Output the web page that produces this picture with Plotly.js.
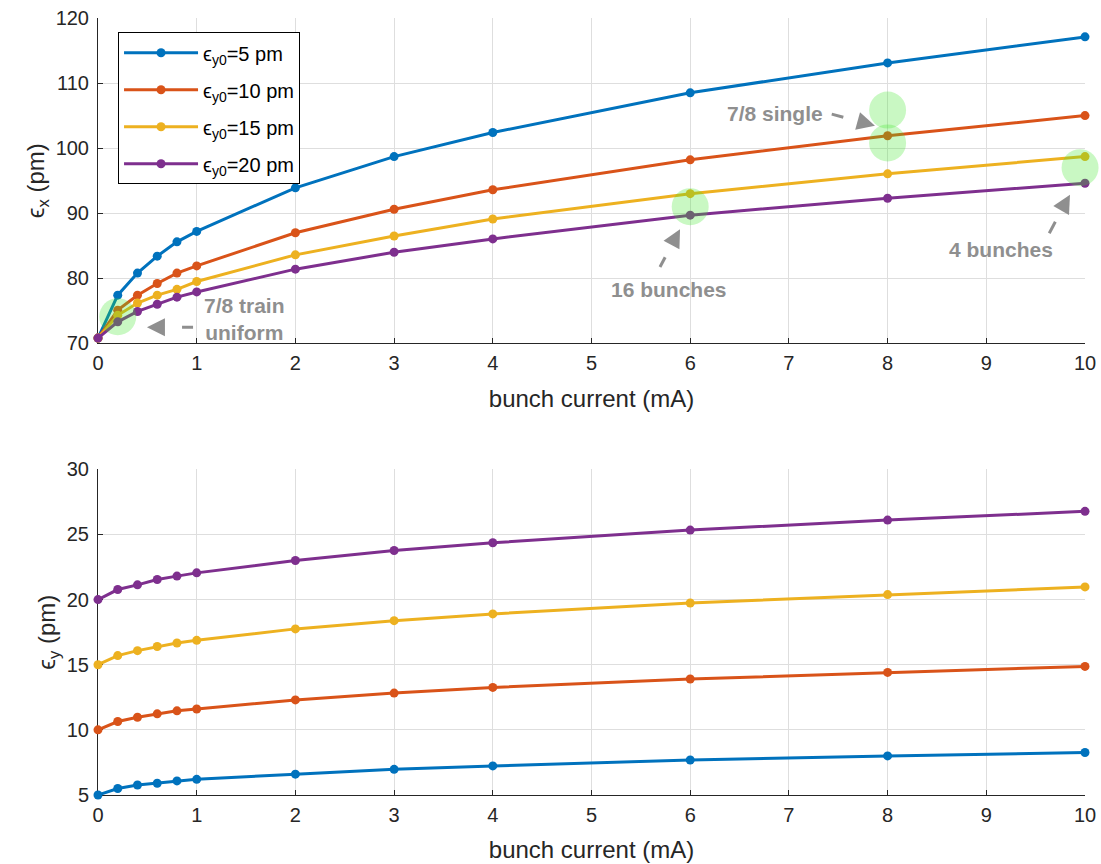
<!DOCTYPE html>
<html>
<head>
<meta charset="utf-8">
<script src="https://cdn.plot.ly/plotly-3.0.1.min.js"></script>
<style>
  html, body { margin: 0; padding: 0; background: #ffffff; }
  #chart { width: 1101px; height: 864px; }
</style>
</head>
<body>
<div id="chart"></div>
<script>
// ---------------- data ----------------
const current = [0, 0.2, 0.4, 0.6, 0.8, 1, 2, 3, 4, 6, 8, 10];

const seriesNames = ['ϵ<sub>y0</sub>=5 pm', 'ϵ<sub>y0</sub>=10 pm', 'ϵ<sub>y0</sub>=15 pm', 'ϵ<sub>y0</sub>=20 pm'];

// horizontal emittance (pm)
const ex5  = [70.8, 77.4, 80.8, 83.4, 85.6, 87.2, 93.9, 98.7, 102.4, 108.5, 113.1, 117.1];
const ex10 = [70.8, 75.1, 77.4, 79.2, 80.8, 81.9, 87.0, 90.6, 93.6, 98.2, 101.9, 105.0];
const ex15 = [70.8, 74.3, 76.2, 77.4, 78.3, 79.5, 83.6, 86.5, 89.1, 93.0, 96.05, 98.7];
const ex20 = [70.8, 73.3, 74.9, 76.0, 77.1, 77.9, 81.4, 84.0, 86.05, 89.7, 92.3, 94.6];

// vertical emittance (pm)
const ey5  = [5.0, 5.5, 5.77, 5.9, 6.08, 6.2, 6.6, 6.97, 7.23, 7.69, 8.0, 8.26];
const ey10 = [10.0, 10.64, 10.97, 11.23, 11.46, 11.6, 12.3, 12.82, 13.26, 13.9, 14.41, 14.87];
const ey15 = [15.0, 15.7, 16.08, 16.4, 16.67, 16.87, 17.75, 18.38, 18.9, 19.74, 20.38, 20.97];
const ey20 = [20.0, 20.77, 21.13, 21.54, 21.8, 22.05, 23.0, 23.77, 24.36, 25.33, 26.1, 26.77];

// highlighted operating points (top panel)
const highlightX = [0.2, 8, 8, 6, 9.95];
const highlightY = [74.1, 105.85, 100.8, 91.0, 97.0];

// axis ticks
const xTicks = [0, 1, 2, 3, 4, 5, 6, 7, 8, 9, 10];
const exTicks = [70, 80, 90, 100, 110, 120];
const eyTicks = [5, 10, 15, 20, 25, 30];

// ---------------- styling ----------------
const colors = ['#0072BD', '#D95319', '#EDB120', '#7E2F8E'];
const FONT = 'Liberation Sans, Arial, Helvetica, sans-serif';
const TXT = '#262626';
const GRID = '#dedede';
const ANN = '#8f8f8f';

const exSeries = [ex5, ex10, ex15, ex20];
const eySeries = [ey5, ey10, ey15, ey20];

const traces = [];
exSeries.forEach((ys, i) => {
  traces.push({
    x: current, y: ys, xaxis: 'x', yaxis: 'y',
    type: 'scatter', mode: 'lines+markers',
    name: seriesNames[i],
    legendgroup: 'g' + i,
    line: { color: colors[i], width: 3 },
    marker: { color: colors[i], size: 9 },
    cliponaxis: false,
    showlegend: true
  });
});
eySeries.forEach((ys, i) => {
  traces.push({
    x: current, y: ys, xaxis: 'x2', yaxis: 'y2',
    type: 'scatter', mode: 'lines+markers',
    name: seriesNames[i],
    legendgroup: 'g' + i,
    line: { color: colors[i], width: 3 },
    marker: { color: colors[i], size: 9 },
    cliponaxis: false,
    showlegend: false
  });
});
traces.push({
  x: highlightX, y: highlightY, xaxis: 'x', yaxis: 'y',
  type: 'scatter', mode: 'markers',
  marker: { color: 'rgba(60,230,40,0.28)', size: 37, line: { width: 0 } },
  cliponaxis: false,
  showlegend: false,
  hoverinfo: 'skip'
});

function xAxis(anchor) {
  return {
    anchor: anchor,
    range: [0, 10],
    tickvals: xTicks,
    ticks: 'inside', ticklen: 5, tickwidth: 1, tickcolor: TXT,
    showline: true, linecolor: TXT, linewidth: 1,
    showgrid: true, gridcolor: GRID, gridwidth: 1,
    zeroline: false,
    layer: 'below traces',
    tickfont: { family: FONT, size: 20, color: TXT },
    ticklabelstandoff: 2,
    title: { text: 'bunch current (mA)', font: { family: FONT, size: 24, color: TXT }, standoff: 16 },
    automargin: false
  };
}
function yAxis(anchor, range, ticks, title, domain) {
  return {
    anchor: anchor, domain: domain,
    range: range, tickvals: ticks,
    ticks: 'inside', ticklen: 5, tickwidth: 1, tickcolor: TXT,
    showline: true, linecolor: TXT, linewidth: 1,
    showgrid: true, gridcolor: GRID, gridwidth: 1,
    zeroline: false,
    layer: 'below traces',
    tickfont: { family: FONT, size: 20, color: TXT },
    ticklabelstandoff: 4,
    title: { text: title, font: { family: FONT, size: 24, color: TXT }, standoff: 4 },
    automargin: false
  };
}

const annFont = { family: FONT, size: 21, color: ANN };
const arrowCommon = {
  text: '', showarrow: true, arrowhead: 2, arrowsize: 1.2, arrowwidth: 3,
  arrowcolor: ANN, xref: 'x', yref: 'y', axref: 'pixel', ayref: 'pixel'
};

const layout = {
  width: 1101, height: 864,
  margin: { l: 98, r: 16, t: 18, b: 69 },
  paper_bgcolor: '#ffffff', plot_bgcolor: '#ffffff',
  font: { family: FONT, color: TXT },
  xaxis: xAxis('y'),
  yaxis: yAxis('x', [70, 120], exTicks, 'ϵ<sub>x</sub> (pm)', [0.5813, 1]),
  xaxis2: xAxis('y2'),
  yaxis2: yAxis('x2', [5, 30], eyTicks, 'ϵ<sub>y</sub> (pm)', [0, 0.4192]),
  showlegend: true,
  legend: {
    x: 0.0203, y: 0.9816, xanchor: 'left', yanchor: 'top',
    bgcolor: '#ffffff', bordercolor: '#000000', borderwidth: 1,
    font: { family: FONT, size: 20, color: '#000000' },
    itemwidth: 74,
    tracegroupgap: 8,
    traceorder: 'grouped'
  },
  shapes: [
    // dashed shafts of the annotation arrows
    { type: 'line', xref: 'x', yref: 'y', x0: 0.963, y0: 72.46, x1: 0.648, y1: 72.46,
      line: { color: ANN, width: 3, dash: '11px,20px' } },
    { type: 'line', xref: 'x', yref: 'y', x0: 7.434, y0: 105.23, x1: 7.726, y1: 104.05,
      line: { color: ANN, width: 3, dash: '12px,20px' } },
    { type: 'line', xref: 'x', yref: 'y', x0: 5.694, y0: 81.74, x1: 5.826, y1: 85.51,
      line: { color: ANN, width: 3, dash: '11px,20px' } },
    { type: 'line', xref: 'x', yref: 'y', x0: 9.638, y0: 86.92, x1: 9.772, y1: 90.77,
      line: { color: ANN, width: 3, dash: '13px,20px' } }
  ],
  annotations: [
    Object.assign({}, arrowCommon, { x: 0.496, y: 72.46, ax: 15, ay: 0 }),
    Object.assign({}, arrowCommon, { x: 7.872, y: 103.43, ax: -14.5, ay: -4 }),
    Object.assign({}, arrowCommon, { x: 5.897, y: 87.54, ax: -7, ay: 13 }),
    Object.assign({}, arrowCommon, { x: 9.848, y: 92.82, ax: -7.5, ay: 13.3 }),
    { text: '<b>7/8 train<br>uniform</b>', x: 1.489, y: 73.74, xref: 'x', yref: 'y',
      showarrow: false, font: annFont, align: 'center' },
    { text: '<b>7/8 single</b>', x: 6.859, y: 105.38, xref: 'x', yref: 'y',
      showarrow: false, font: annFont },
    { text: '<b>16 bunches</b>', x: 5.785, y: 78.2, xref: 'x', yref: 'y',
      showarrow: false, font: annFont },
    { text: '<b>4 bunches</b>', x: 9.149, y: 84.46, xref: 'x', yref: 'y',
      showarrow: false, font: annFont }
  ]
};

Plotly.newPlot('chart', traces, layout, { staticPlot: true, displayModeBar: false });
</script>
</body>
</html>
